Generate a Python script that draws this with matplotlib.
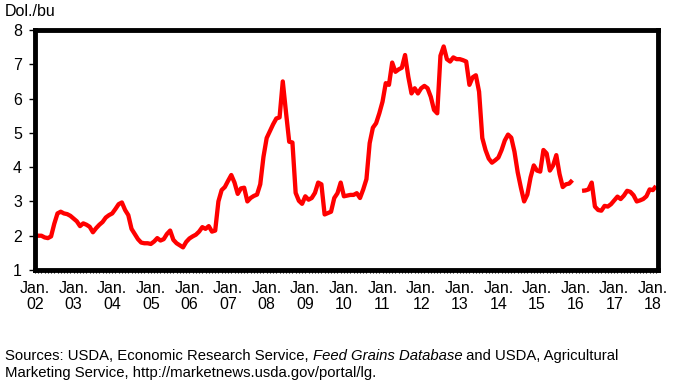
import numpy as np
import matplotlib
matplotlib.use("Agg")
import matplotlib.pyplot as plt

plt.rcParams['font.family'] = ['Liberation Sans', 'DejaVu Sans']

# Monthly price, Jan 2002 - Feb 2018 (Dol./bu); NaN = missing months
p2002 = [2.02, 2.0, 2.0, 1.95, 1.93, 1.98, 2.35, 2.65, 2.7, 2.65, 2.63, 2.58]
p2003 = [2.5, 2.42, 2.28, 2.36, 2.32, 2.26, 2.1, 2.22, 2.32, 2.4, 2.53, 2.6]
p2004 = [2.65, 2.78, 2.92, 2.97, 2.75, 2.6, 2.2, 2.05, 1.9, 1.8, 1.78, 1.78]
p2005 = [1.76, 1.83, 1.93, 1.86, 1.9, 2.05, 2.15, 1.88, 1.78, 1.72, 1.66, 1.82]
p2006 = [1.92, 1.98, 2.03, 2.12, 2.25, 2.2, 2.28, 2.12, 2.15, 3.0, 3.33, 3.42]
p2007 = [3.6, 3.77, 3.55, 3.22, 3.38, 3.4, 3.0, 3.1, 3.16, 3.2, 3.5, 4.3]
p2008 = [4.85, 5.05, 5.25, 5.42, 5.45, 6.5, 5.6, 4.74, 4.72, 3.25, 3.02, 2.93]
p2009 = [3.15, 3.05, 3.1, 3.25, 3.55, 3.5, 2.62, 2.66, 2.7, 3.1, 3.24, 3.55]
p2010 = [3.15, 3.17, 3.19, 3.19, 3.24, 3.1, 3.35, 3.65, 4.7, 5.15, 5.28, 5.57]
p2011 = [5.91, 6.45, 6.4, 7.05, 6.78, 6.85, 6.9, 7.27, 6.64, 6.15, 6.3, 6.15]
p2012 = [6.3, 6.37, 6.3, 6.05, 5.67, 5.57, 7.25, 7.52, 7.15, 7.08, 7.2, 7.15]
p2013 = [7.15, 7.12, 7.08, 6.4, 6.62, 6.68, 6.2, 4.85, 4.5, 4.25, 4.13, 4.2]
p2014 = [4.28, 4.5, 4.78, 4.95, 4.86, 4.45, 3.85, 3.4, 3.0, 3.2, 3.7, 4.05]
p2015 = [3.9, 3.87, 4.5, 4.4, 3.9, 4.05, 4.35, 3.8, 3.42, 3.5, 3.52, 3.62]
p2016 = [np.nan, np.nan, 3.31, 3.32, 3.35, 3.55, 2.85, 2.75, 2.73, 2.87, 2.85, 2.92]
p2017 = [3.03, 3.14, 3.07, 3.17, 3.31, 3.28, 3.18, 3.0, 3.03, 3.07, 3.15, 3.35]
p2018 = [3.33, 3.45]

prices = (p2002 + p2003 + p2004 + p2005 + p2006 + p2007 + p2008 + p2009 + p2010
          + p2011 + p2012 + p2013 + p2014 + p2015 + p2016 + p2017 + p2018)
year_labels = ["02", "03", "04", "05", "06", "07", "08", "09", "10",
               "11", "12", "13", "14", "15", "16", "17", "18"]
y_ticks = [1, 2, 3, 4, 5, 6, 7, 8]

months = np.arange(len(prices))

fig = plt.figure(figsize=(6.79, 3.92), dpi=100)
ax = fig.add_axes([34.5 / 679, 1 - 270 / 392, (658 - 34.5) / 679, 240 / 392])

ax.plot(months, prices, color="#ff0000", linewidth=3.1, solid_joinstyle="round",
        solid_capstyle="butt")

ax.set_ylim(1, 8)
ax.set_xlim(-0.15, 193.6)
ax.set_yticks(y_ticks)
ax.set_yticklabels([str(v) for v in y_ticks], fontsize=11.5)

ax.set_xticks(np.arange(0, len(prices), 12))
ax.set_xticklabels(["Jan.\n" + y for y in year_labels], fontsize=11.5, linespacing=1.05)
ax.set_xticks(np.arange(0, 194), minor=True)

for s in ax.spines.values():
    s.set_linewidth(3.5)
    s.set_color("black")

ax.tick_params(axis="y", direction="out", length=4, width=1, pad=5, colors="black")
ax.tick_params(axis="x", which="major", direction="out", length=2.2, width=0.8, pad=6)
ax.tick_params(axis="x", which="minor", direction="out", length=2.2, width=0.8)

fig.text(5 / 679, 1 - 12 / 392, "Dol./bu", fontsize=11.5, ha="left", va="center")

# Source note with italic database name
src_size = 10.7
renderer = fig.canvas.get_renderer()
x0 = 5 / 679
y1 = 1 - 356 / 392
parts = [("Sources: USDA, Economic Research Service, ", "normal"),
         ("Feed Grains Database", "italic"),
         (" and USDA, Agricultural", "normal")]
x = x0
for txt, style in parts:
    t = fig.text(x, y1, txt, fontsize=src_size, style=style, ha="left", va="center")
    bb = t.get_window_extent(renderer=renderer)
    x += bb.width / fig.bbox.width
fig.text(x0, 1 - 373 / 392, "Marketing Service, http://marketnews.usda.gov/portal/lg.",
         fontsize=src_size, ha="left", va="center")

fig.savefig("out.png", dpi=100)
